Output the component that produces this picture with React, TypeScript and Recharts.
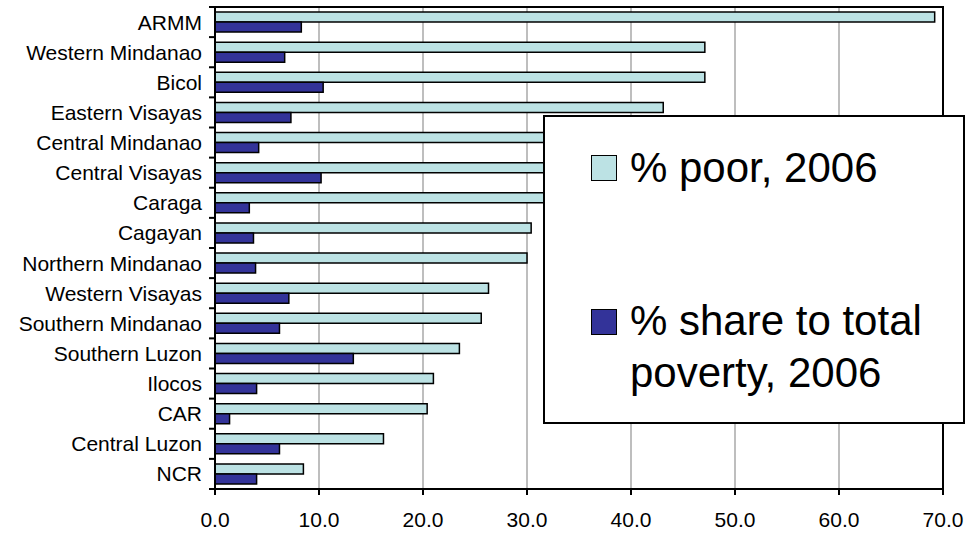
import { BarChart, Bar, XAxis, YAxis, CartesianGrid, Legend } from "recharts";

const regions = [
  "ARMM",
  "Western Mindanao",
  "Bicol",
  "Eastern Visayas",
  "Central Mindanao",
  "Central Visayas",
  "Caraga",
  "Cagayan",
  "Northern Mindanao",
  "Western Visayas",
  "Southern Mindanao",
  "Southern Luzon",
  "Ilocos",
  "CAR",
  "Central Luzon",
  "NCR",
];

// % poor, 2006 (three bars are partly hidden behind the legend, estimated)
const poor = [69.2, 47.1, 47.1, 43.1, 40.0, 38.5, 36.0, 30.4, 30.0, 26.3, 25.6, 23.5, 21.0, 20.4, 16.2, 8.5];

// % share to total poverty, 2006
const share = [8.3, 6.7, 10.4, 7.3, 4.2, 10.2, 3.3, 3.7, 3.9, 7.1, 6.2, 13.3, 4.0, 1.4, 6.2, 4.0];

const xTicks = [0, 10, 20, 30, 40, 50, 60, 70];

const W = 968;
const H = 533;
const TOP = 7;
const BOTTOM = 44;
const LEFT = 215;
const RIGHT = 943;
const BAND = (H - TOP - BOTTOM) / regions.length;

const FONT = "'Liberation Sans', Arial, sans-serif";
const POOR_COLOR = "#BCE2E4";
const SHARE_COLOR = "#333399";

const data = regions.map((region, i) => ({ region, poor: poor[i], share: share[i] }));

function RegionTick(props: any) {
  const { y, payload } = props;
  const half = BAND / 2;
  const first = payload.value === regions[0];
  return (
    <g>
      <text x={LEFT - 13} y={y} dy="0.36em" textAnchor="end" fontSize={21} fill="#000" fontFamily={FONT}>
        {payload.value}
      </text>
      <line x1={LEFT - 6} x2={LEFT} y1={y + half} y2={y + half} stroke="#000" strokeWidth={2} />
      {first ? (
        <g>
          <line x1={LEFT - 6} x2={LEFT} y1={y - half} y2={y - half} stroke="#000" strokeWidth={2} />
          {/* top edge of the plot frame */}
          <rect x={LEFT - 1} y={y - half - 1} width={RIGHT - LEFT + 2} height={2} fill="#000" />
        </g>
      ) : null}
    </g>
  );
}

function LegendBox(props: any) {
  const items = props.payload || [];
  const swatch = (color: string, top: number) => (
    <div
      style={{
        position: "absolute",
        left: 46,
        top,
        width: 26,
        height: 26,
        background: color,
        border: "1.5px solid #000",
        boxSizing: "border-box",
      }}
    />
  );
  return (
    <div
      style={{
        position: "relative",
        width: 422,
        height: 309,
        background: "#fff",
        border: "2px solid #000",
        boxSizing: "border-box",
        fontFamily: FONT,
        fontSize: 42,
        lineHeight: "52px",
        color: "#000",
      }}
    >
      {swatch(items[0]?.color || POOR_COLOR, 38)}
      <div style={{ position: "absolute", left: 85, top: 25, whiteSpace: "nowrap" }}>{items[0]?.value}</div>
      {swatch(items[1]?.color || SHARE_COLOR, 192)}
      <div style={{ position: "absolute", left: 85, top: 178, width: 325 }}>{items[1]?.value}</div>
    </div>
  );
}

export default function App() {
  return (
    <div style={{ position: "absolute", left: 0, top: 0, width: W, height: H, background: "#fff" }}>
      <BarChart
        width={W}
        height={H}
        data={data}
        layout="vertical"
        margin={{ top: TOP, right: 0, bottom: 0, left: 0 }}
        barGap={0}
      >
        <CartesianGrid horizontal={false} stroke="#BEBEBE" strokeWidth={2} />
        <XAxis
          type="number"
          domain={[0, 70]}
          ticks={xTicks}
          interval={0}
          tickFormatter={(v: number) => v.toFixed(1)}
          height={BOTTOM}
          axisLine={{ stroke: "#000", strokeWidth: 2 }}
          tickLine={{ stroke: "#000", strokeWidth: 2 }}
          tickSize={6}
          tickMargin={17}
          tick={{ fill: "#000", fontSize: 21, fontFamily: FONT }}
        />
        <YAxis
          type="category"
          dataKey="region"
          width={LEFT}
          interval={0}
          tickLine={false}
          axisLine={{ stroke: "#000", strokeWidth: 2 }}
          tick={RegionTick}
        />
        <YAxis
          yAxisId="right"
          orientation="right"
          type="category"
          dataKey="region"
          width={W - RIGHT}
          tick={false}
          tickLine={false}
          axisLine={{ stroke: "#000", strokeWidth: 2 }}
        />
        <Bar
          dataKey="poor"
          name="% poor, 2006"
          fill={POOR_COLOR}
          stroke="#000"
          strokeWidth={1.5}
          barSize={10}
          isAnimationActive={false}
        />
        <Bar
          dataKey="share"
          name="% share to total poverty, 2006"
          fill={SHARE_COLOR}
          stroke="#000"
          strokeWidth={1.5}
          barSize={10}
          isAnimationActive={false}
        />
        <Legend
          layout="vertical"
          align="center"
          verticalAlign="middle"
          content={<LegendBox />}
          wrapperStyle={{ left: 543, top: 115, width: 422, height: 309, margin: 0 }}
        />
      </BarChart>
    </div>
  );
}
